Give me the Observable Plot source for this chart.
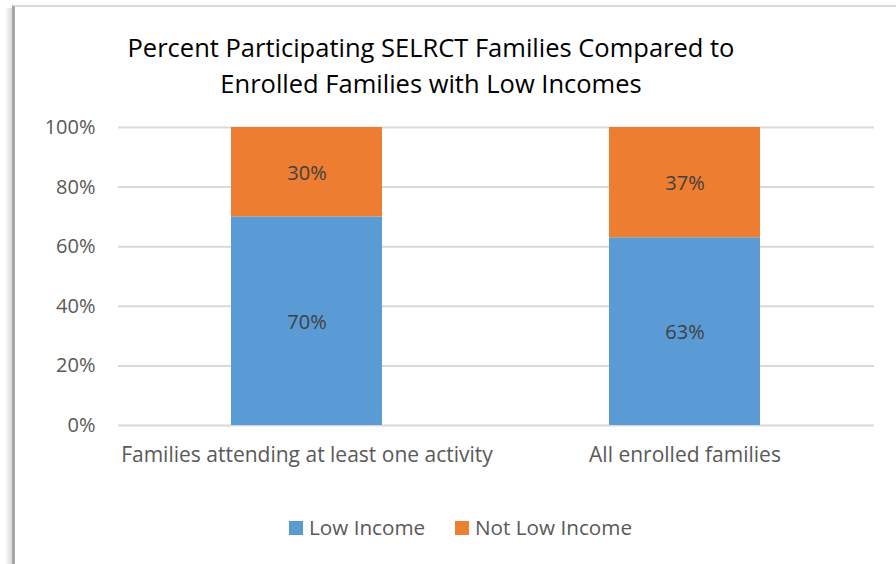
<!DOCTYPE html>
<html>
<head>
<meta charset="utf-8">
<script src="https://cdn.jsdelivr.net/npm/d3@7"></script>
<script src="https://cdn.jsdelivr.net/npm/@observablehq/plot@0.6"></script>
<style>
  html, body { margin: 0; padding: 0; background: #ffffff; overflow: hidden; }
  #wrap { position: relative; width: 896px; height: 564px; overflow: hidden; background: #fff; font-family: "Open Sans", Lato, sans-serif; }
  #shadow { position: absolute; left: 5px; top: 8px; width: 8px; height: 556px; background: linear-gradient(to right, rgba(0,0,0,0), rgba(0,0,0,0.18)); }
  #frame { position: absolute; left: 12px; top: 5px; width: 881px; height: 557px; border-top: 2px solid #d9d9d9; border-left: 3px solid #a6a6a6; background: #fff; }
  #title { position: absolute; left: 0; width: 862px; top: 29px; text-align: center; font-size: 25.5px; line-height: 36px; color: #000; }
  #chart { position: absolute; left: 0; top: 100px; }
  #legend { position: absolute; top: 514px; left: 0; width: 896px; height: 26px; font-size: 20.7px; color: #595959; }
  .sw { position: absolute; top: 7px; width: 14px; height: 14px; }
  .lt { position: absolute; top: 0; line-height: 26px; white-space: nowrap; }
</style>
</head>
<body>
<div id="wrap">
  <div id="shadow"></div>
  <div id="frame"></div>
  <div id="title">Percent Participating SELRCT Families Compared to<br>Enrolled Families with Low Incomes</div>
  <div id="chart"></div>
  <div id="legend"></div>
</div>
<script>
const categories = ["Families attending at least one activity", "All enrolled families"];
const seriesNames = ["Low Income", "Not Low Income"];
const lowIncome = [70, 63];
const notLowIncome = [30, 37];
const colors = ["#5B9BD5", "#ED7D31"];
const yTicks = [0, 20, 40, 60, 80, 100];

const rows = [];
categories.forEach((c, i) => {
  rows.push({cat: c, series: seriesNames[0], value: lowIncome[i]});
  rows.push({cat: c, series: seriesNames[1], value: notLowIncome[i]});
});

const FS = 20.5;
const plot = Plot.plot({
  width: 896,
  height: 390,
  marginTop: 27,
  marginBottom: 65,
  marginLeft: 118,
  marginRight: 22,
  style: {fontFamily: "'Open Sans', Lato, sans-serif", fontSize: FS + "px", color: "#595959", background: "transparent"},
  x: {domain: categories, paddingInner: 0.6, paddingOuter: 0.3, label: null},
  y: {domain: [0, 100], label: null},
  color: {domain: seriesNames, range: colors},
  marks: [
    Plot.ruleY(yTicks, {stroke: "#d9d9d9", strokeWidth: 2}),
    Plot.barY(rows, {x: "cat", y: "value", fill: "series", order: seriesNames}),
    Plot.text(rows, Plot.stackY({x: "cat", y: "value", z: "series", order: seriesNames, text: d => d.value + "%", fill: "#404040", fontSize: 20, dy: 1})),
    Plot.axisX({tickSize: 0, tickPadding: 22, fontSize: 21, fill: "#595959"}),
    Plot.axisY({ticks: yTicks, tickSize: 0, tickPadding: 23, tickFormat: d => d + "%", fontSize: 20, fill: "#595959"})
  ]
});
document.getElementById("chart").appendChild(plot);

// legend built from series names and colors
const legend = document.getElementById("legend");
const positions = [289, 455];
seriesNames.forEach((s, i) => {
  const sw = document.createElement("div");
  sw.className = "sw";
  sw.style.left = positions[i] + "px";
  sw.style.background = colors[i];
  legend.appendChild(sw);
  const t = document.createElement("div");
  t.className = "lt";
  t.style.left = (positions[i] + 20) + "px";
  t.textContent = s;
  legend.appendChild(t);
});
</script>
</body>
</html>
